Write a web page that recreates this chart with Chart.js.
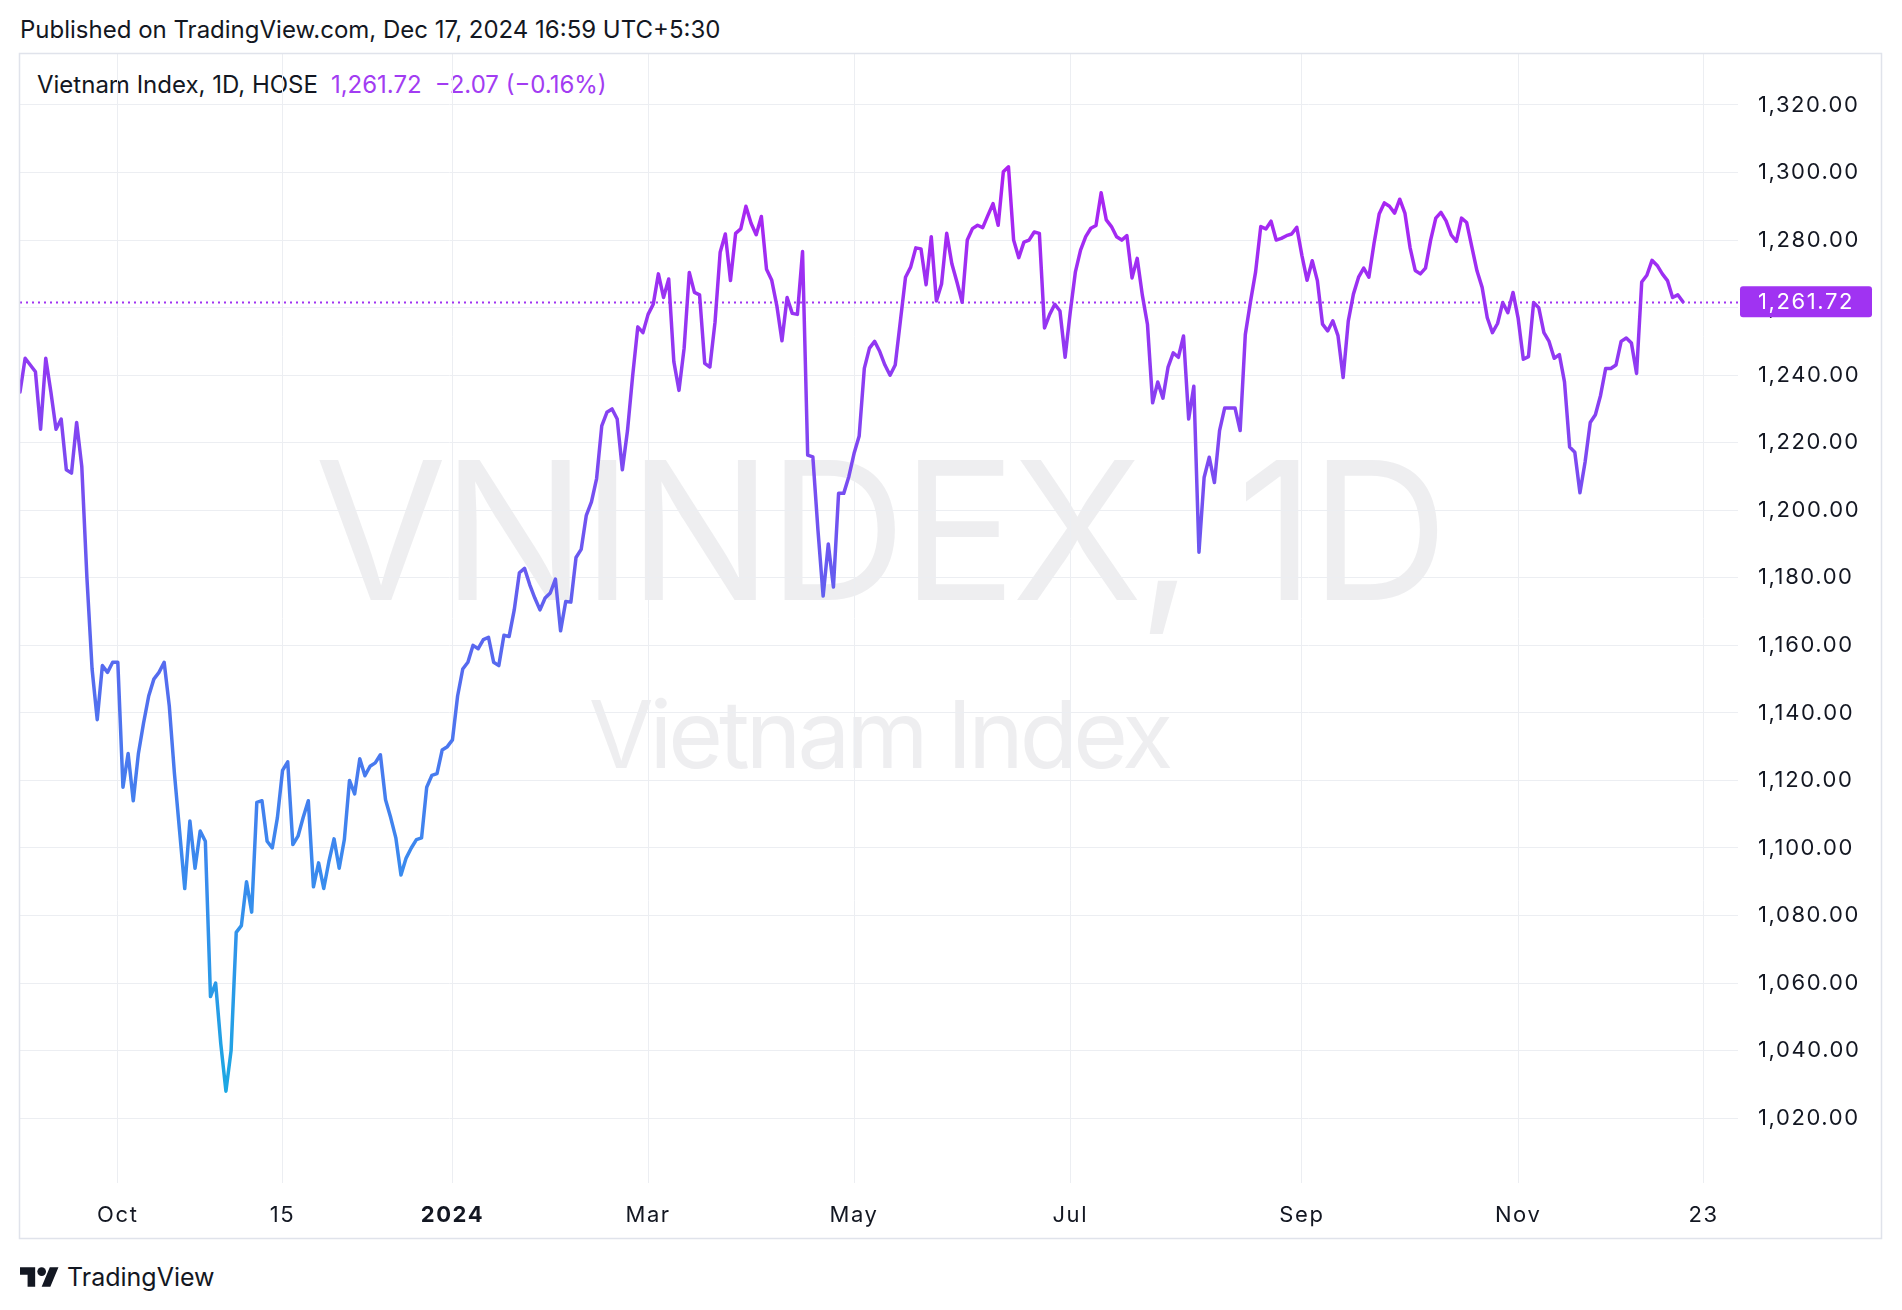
<!DOCTYPE html>
<html>
<head>
<meta charset="utf-8">
<script src="https://cdn.jsdelivr.net/npm/chart.js@4.4.1/dist/chart.umd.min.js"></script>
<style>
html,body{margin:0;padding:0;background:#ffffff;}
body{width:1902px;height:1310px;position:relative;overflow:hidden;font-family:Inter,"Noto Sans",sans-serif;color:#131722;}
.abs{position:absolute;white-space:nowrap;}
#pub{left:20px;top:14px;font-size:24px;line-height:32px;}
#legend{left:37px;top:69px;font-size:24px;line-height:32px;}
#legend .v{color:#a23cf2;margin-left:13px;}
#wm1{left:20px;width:1718px;top:410px;text-align:center;font-size:192px;letter-spacing:-5px;line-height:240px;color:rgba(120,123,140,0.13);}
#wm2{left:20px;width:1718px;top:676px;text-align:center;font-size:94px;letter-spacing:-4px;line-height:116px;color:rgba(120,123,140,0.13);}
#brand{left:20px;top:1262px;height:30px;display:flex;align-items:center;}
#brand span{font-size:25px;margin-left:8px;}
canvas{position:absolute;left:0;top:0;}
</style>
</head>
<body>
<div id="wm1" class="abs">VNINDEX, 1D</div>
<div id="wm2" class="abs">Vietnam Index</div>
<div id="pub" class="abs">Published on TradingView.com, Dec 17, 2024 16:59 UTC+5:30</div>
<div id="legend" class="abs">Vietnam Index, 1D, HOSE<span class="v">1,261.72</span><span class="v">−2.07 (−0.16%)</span></div>
<div id="brand" class="abs"><svg width="39" height="20" viewBox="0 4 36 18"><path fill="#131722" d="M14 22H7V11H0V4h14v18zM28 22h-8l7.5-18h8L28 22z"/><circle fill="#131722" cx="20" cy="8" r="4"/></svg><span>TradingView</span></div>
<canvas id="c" width="1902" height="1310"></canvas>
<script>
// Daily closes, Sep 5 2023 .. Dec 17 2024 (trading-day index 0..323)
const closes = [
1235,1245,1243,1241,1224,1245,1235,1224,1227,1212,
1211,1226,1213,1180,1153,1138,1154,1152,1155,1155,
1118,1128,1114,1128,1137,1145,1150,1152,1155,1142,
1122,1105,1088,1108,1094,1105,1102,1056,1060,1042,
1028,1040,1075,1077,1090,1081,1113.5,1114,1102,1100,
1109,1123,1125.5,1101,1103.5,1109,1114,1088.5,1095.6,1088,
1096,1102.7,1094,1102.5,1120,1116,1126.4,1121.4,1124.2,1125.2,
1127.6,1114.3,1109,1103,1092,1097,1100,1102.5,1103,1118,
1121.5,1122,1129,1130,1132,1145,1153,1155,1160,1159,
1161.7,1162.4,1155,1154,1163,1162.6,1170.5,1181.5,1182.8,1178,
1174,1170.5,1174,1175.5,1179.6,1164.3,1173,1172.8,1186,1188.4,
1198.5,1202.5,1209.4,1225,1229,1230,1227,1212,1223.6,1239.8,
1254.3,1252.6,1258,1261,1270,1263,1268.5,1244,1235.5,1248,
1270.4,1264.5,1263.8,1243.5,1242.4,1255.7,1276.4,1281.8,1268,1282,
1283.3,1290,1285,1281.6,1287,1271.4,1268.2,1260.6,1250.2,1263,
1258.3,1258,1276.6,1216.3,1215.8,1194,1174.6,1190,1177.3,1205,
1205,1210,1216.8,1222,1242,1248,1250,1247,1243,1240,
1243,1256,1269,1272,1277.7,1277.4,1266.8,1281,1262,1267,
1282,1273,1267.5,1261.6,1280,1283.4,1284.4,1283.7,1287.3,1290.8,
1284.4,1300.2,1301.7,1280,1274.8,1279.4,1280,1282.4,1282,1254,
1258,1261,1259,1245.3,1258.7,1270.6,1277,1281,1283.5,1284.3,
1294,1286,1284,1281,1280,1281.3,1268.8,1274.6,1263.7,1255,
1231.8,1238,1233.2,1242.4,1246.6,1245.3,1251.6,1227,1236.7,1187.6,
1209.7,1215.7,1208.2,1223.6,1230.3,1230.3,1230.3,1223.6,1252,1261.7,
1270.6,1284,1283.3,1285.6,1280,1280.5,1281.3,1281.8,1283.8,1275.4,
1268.1,1273.9,1268,1255.1,1253.1,1256.1,1251.7,1239.3,1256,1264,
1269,1271.7,1269,1279,1287.7,1291,1290,1288,1292.1,1288,
1277.8,1271,1270,1271.7,1280,1286.5,1288.2,1285.7,1281.5,1279.6,
1286.5,1285.2,1278,1270.9,1266,1257,1252.6,1255.3,1261.5,1258.5,
1264.5,1256.8,1244.7,1245.5,1261.5,1260,1252.6,1250,1245,1246.1,
1238,1218.7,1217.2,1205.2,1214.3,1226,1228.3,1234,1242,1242,
1243,1250,1251,1249.5,1240.5,1267.6,1269.6,1274,1272.5,1270,
1268,1263,1263.79,1261.72
];
const xTickIndex = [19, 51, 84, 122, 162, 204, 249, 291, 327];
const xTickLabels = ['Oct', '15', '2024', 'Mar', 'May', 'Jul', 'Sep', 'Nov', '23'];
const yTickValues = [1020,1040,1060,1080,1100,1120,1140,1160,1180,1200,1220,1240,1260,1280,1300,1320];
const lastClose = 1261.72;

const fmt = v => v.toLocaleString('en-US', {minimumFractionDigits: 2, maximumFractionDigits: 2});
const PURPLE = '#a033f2';

function lineGradient(ctx) {
  const chart = ctx.chart;
  const ca = chart.chartArea;
  if (!ca) return PURPLE;
  const y = chart.scales.y;
  const g = chart.ctx.createLinearGradient(0, y.getPixelForValue(1025), 0, y.getPixelForValue(1300));
  g.addColorStop(0.00, '#1aa9e2');
  g.addColorStop(0.25, '#3a8aee');
  g.addColorStop(0.50, '#5a66ef');
  g.addColorStop(0.78, '#8d3cf2');
  g.addColorStop(1.00, '#ad22f2');
  return g;
}

const decor = {
  id: 'decor',
  beforeDraw(chart) {
    chart.ctx.letterSpacing = '1.6px';
  },
  beforeDatasetsDraw(chart) {
    const {ctx, chartArea: ca, scales: {y}} = chart;
    const py = Math.round(y.getPixelForValue(lastClose)) + 0.5;
    ctx.save();
    ctx.strokeStyle = PURPLE;
    ctx.lineWidth = 2;
    ctx.setLineDash([2, 4]);
    ctx.beginPath();
    ctx.moveTo(ca.left, py);
    ctx.lineTo(ca.right, py);
    ctx.stroke();
    ctx.restore();
  },
  afterDraw(chart) {
    const {ctx, chartArea: ca, scales: {y}} = chart;
    ctx.save();
    // frame
    ctx.strokeStyle = '#e0e3eb';
    ctx.lineWidth = 1.5;
    ctx.strokeRect(19.5, 53.5, 1862, 1185);
    // price label
    const py = y.getPixelForValue(lastClose);
    ctx.fillStyle = PURPLE;
    const bx = ca.right + 2, bw = 132, bh = 31;
    ctx.beginPath();
    ctx.roundRect(bx, py - bh / 2, bw, bh, 3);
    ctx.fill();
    ctx.fillStyle = '#ffffff';
    ctx.font = '22px Inter';
    ctx.textBaseline = 'middle';
    ctx.textAlign = 'left';
    ctx.fillText(fmt(lastClose), ca.right + 20, py + 1);
    ctx.restore();
    ctx.letterSpacing = '0px';
  }
};

new Chart(document.getElementById('c'), {
  type: 'line',
  data: {
    datasets: [{
      data: closes.map((v, i) => ({x: i, y: v})),
      borderColor: lineGradient,
      borderWidth: 3.5,
      pointRadius: 0,
      tension: 0,
      borderJoinStyle: 'round',
      borderCapStyle: 'round'
    }]
  },
  options: {
    responsive: false,
    animation: false,
    devicePixelRatio: 1,
    layout: {padding: {left: 20, top: 54, right: 20, bottom: 71}},
    plugins: {legend: {display: false}, tooltip: {enabled: false}},
    scales: {
      x: {
        type: 'linear', min: 0, max: 333.7,
        afterBuildTicks: s => { s.ticks = xTickIndex.map(v => ({value: v})); },
        afterFit: s => { s.height = 56; },
        grid: {color: '#eceef2', lineWidth: 1, drawTicks: false},
        border: {display: false},
        ticks: {
          autoSkip: false, maxRotation: 0, padding: 19, color: '#131722',
          font: c => ({family: 'Inter', size: 22, weight: xTickLabels[c.index] === '2024' ? 'bold' : 'normal'}),
          callback: (v, i) => xTickLabels[i]
        }
      },
      y: {
        position: 'right', min: 1000.8, max: 1335.1,
        afterBuildTicks: s => { s.ticks = yTickValues.map(v => ({value: v})); },
        afterFit: s => { s.width = 144; },
        grid: {color: '#eceef2', lineWidth: 1, drawTicks: false},
        border: {display: false},
        ticks: {padding: 20, color: '#131722', font: {family: 'Inter', size: 22}, callback: v => fmt(v)}
      }
    }
  },
  plugins: [decor]
});
</script>
</body>
</html>
